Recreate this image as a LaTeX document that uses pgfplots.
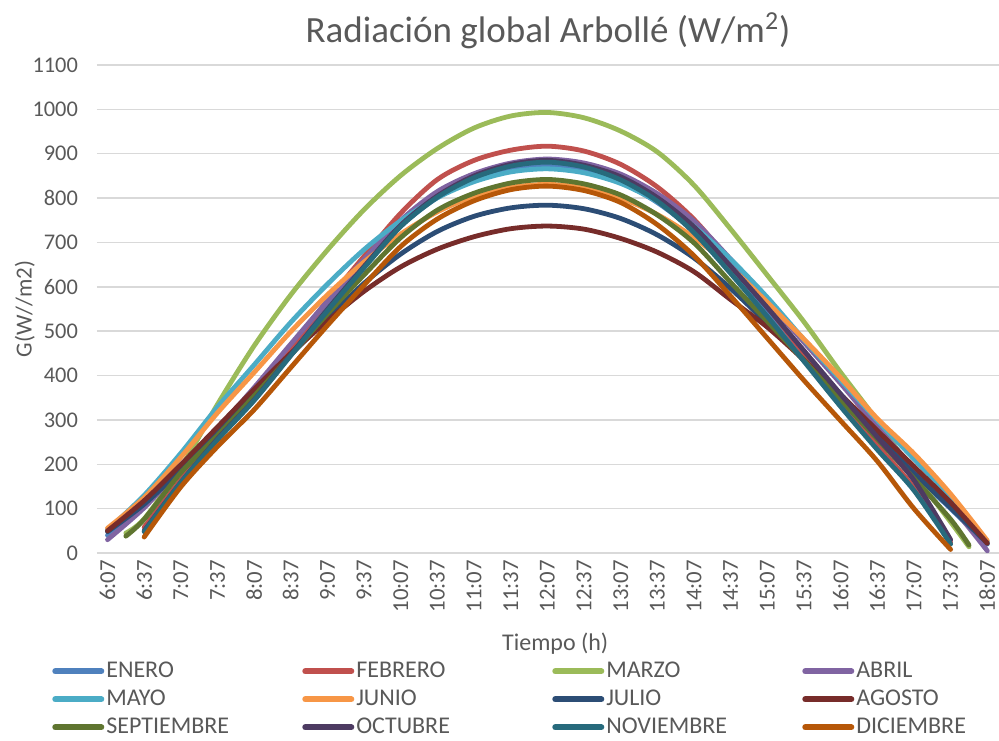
\documentclass[border=0pt]{standalone}
\usepackage{fontspec}
\setmainfont{Carlito}
\usepackage{pgfplots}
\pgfplotsset{compat=1.18}
\definecolor{txt}{HTML}{595959}
\definecolor{grd}{HTML}{D9D9D9}
\definecolor{cEne}{HTML}{4F81BD}
\definecolor{cFeb}{HTML}{C0504D}
\definecolor{cMar}{HTML}{9BBB59}
\definecolor{cAbr}{HTML}{8064A2}
\definecolor{cMay}{HTML}{4BACC6}
\definecolor{cJun}{HTML}{F79646}
\definecolor{cJul}{HTML}{2C4D75}
\definecolor{cAgo}{HTML}{772C2A}
\definecolor{cSep}{HTML}{5F7530}
\definecolor{cOct}{HTML}{4D3B62}
\definecolor{cNov}{HTML}{276A7C}
\definecolor{cDic}{HTML}{B65708}
\newcommand{\lent}[1]{\makebox[97pt][l]{#1}}
\begin{document}
\begin{tikzpicture}
\useasboundingbox (-48.5pt,-93.5pt) rectangle (451pt,276.5pt);
\begin{axis}[
  at={(0pt,0pt)}, anchor=south west, scale only axis,
  width=451pt, height=244pt,
  xmin=-8.6, xmax=729.6, ymin=0, ymax=1100,
  axis line style={draw=none},
  major tick length=0pt,
  ytick={0,100,...,1100},
  ymajorgrids, major grid style={grd, line width=0.75pt},
  xtick={0,30,...,720},
  xticklabels={6:07,6:37,7:07,7:37,8:07,8:37,9:07,9:37,10:07,10:37,11:07,11:37,12:07,12:37,13:07,13:37,14:07,14:37,15:07,15:37,16:07,16:37,17:07,17:37,18:07},
  xticklabel style={rotate=90, anchor=east, font=\fontsize{11.4}{13}\selectfont, text=txt},
  yticklabel style={font=\fontsize{11.2}{13}\selectfont, text=txt, xshift=-6pt},
  /pgf/number format/assume math mode=true,
  /pgf/number format/1000 sep={},
  title={Radiación global Arbollé (W/m\textsuperscript{2})},
  title style={at={(axis description cs:0.5,1.045)}, anchor=center, yshift=0pt, font=\fontsize{18.5}{20}\selectfont, text=txt},
  xlabel={Tiempo (h)},
  xlabel style={at={(axis description cs:0.508,-0.150)}, anchor=north, font=\fontsize{12}{14}\selectfont, text=txt},
  ylabel={G(W//m2)},
  ylabel style={at={(axis description cs:-0.080,0.5)}, anchor=center, font=\fontsize{11.5}{13}\selectfont, text=txt},
  legend columns=4,
  legend cell align=left,
  legend image code/.code={\draw[#1, line width=3pt, line cap=round] (0pt,0pt) -- (23pt,0pt);},
  legend style={at={(axis description cs:-0.050,-0.218)}, anchor=north west, draw=none, fill=none,
    inner sep=0pt, font=\fontsize{12}{14}\selectfont, text=txt, row sep=2.5pt,
    nodes={inner sep=1pt, text height=8pt, text depth=1.5pt}},
  every axis plot/.append style={line width=2.4pt, smooth, line join=round, line cap=round, no marks},
]
\addplot[cEne] coordinates {(0,40)(30,113)(60,188)(90,275)(120,367)(150,463)(180,559)(210,650)(240,738)(270,801)(300,841)(330,864)(360,873)(390,863)(420,836)(450,790)(480,725)(510,633)(540,541)(570,450)(600,358)(630,266)(660,179)(690,100)(720,20)};
\addlegendentry{\lent{ENERO}}
\addplot[cFeb] coordinates {(30,58)(60,165)(90,266)(120,358)(150,463)(180,569)(210,669)(240,766)(270,842)(300,885)(330,908)(360,917)(390,906)(420,876)(450,825)(480,752)(510,656)(540,555)(570,449)(600,344)(630,243)(660,147)(690,24)};
\addlegendentry{\lent{FEBRERO}}
\addplot[cMar] coordinates {(15,45)(30,77)(60,192)(90,335)(120,467)(150,582)(180,683)(210,774)(240,851)(270,912)(300,958)(330,985)(360,993)(390,981)(420,951)(450,904)(480,829)(510,730)(540,626)(570,521)(600,407)(630,298)(660,179)(690,70)(705,14)};
\addlegendentry{\lent{MARZO}}
\addplot[cAbr] coordinates {(0,30)(30,102)(60,191)(90,280)(120,373)(150,471)(180,568)(210,662)(240,750)(270,815)(300,855)(330,879)(360,888)(390,879)(420,854)(450,810)(480,748)(510,662)(540,568)(570,475)(600,382)(630,284)(660,191)(690,107)(720,5)};
\addlegendentry{\lent{ABRIL}}
\addplot[cMay] coordinates {(0,52)(30,130)(60,225)(90,329)(120,424)(150,520)(180,606)(210,684)(240,749)(270,801)(300,837)(330,859)(360,866)(390,857)(420,833)(450,792)(480,736)(510,662)(540,576)(570,481)(600,390)(630,299)(660,212)(690,126)(720,26)};
\addlegendentry{\lent{MAYO}}
\addplot[cJun] coordinates {(0,56)(30,125)(60,216)(90,316)(120,407)(150,499)(180,582)(210,656)(240,719)(270,769)(300,804)(330,824)(360,831)(390,823)(420,800)(450,763)(480,711)(510,644)(540,565)(570,482)(600,395)(630,303)(660,224)(690,133)(720,28)};
\addlegendentry{\lent{JUNIO}}
\addplot[cJul] coordinates {(0,48)(30,110)(60,188)(90,274)(120,361)(150,447)(180,529)(210,608)(240,674)(270,725)(300,759)(330,778)(360,784)(390,776)(420,754)(450,717)(480,665)(510,596)(540,517)(570,435)(600,349)(630,263)(660,180)(690,102)(720,22)};
\addlegendentry{\lent{JULIO}}
\addplot[cAgo] coordinates {(0,50)(30,118)(60,199)(90,284)(120,369)(150,450)(180,523)(210,590)(240,645)(270,685)(300,713)(330,731)(360,737)(390,730)(420,709)(450,678)(480,634)(510,571)(540,509)(570,435)(600,357)(630,276)(660,195)(690,114)(720,22)};
\addlegendentry{\lent{AGOSTO}}
\addplot[cSep] coordinates {(15,38)(30,76)(60,181)(90,265)(120,354)(150,446)(180,539)(210,627)(240,711)(270,773)(300,811)(330,834)(360,842)(390,832)(420,807)(450,762)(480,699)(510,610)(540,522)(570,434)(600,345)(630,257)(660,168)(690,76)(705,18)};
\addlegendentry{\lent{SEPTIEMBRE}}
\addplot[cOct] coordinates {(30,50)(60,159)(90,257)(120,345)(150,447)(180,549)(210,646)(240,739)(270,805)(300,850)(330,876)(360,885)(390,874)(420,848)(450,801)(480,735)(510,646)(540,553)(570,456)(600,358)(630,261)(660,164)(690,30)};
\addlegendentry{\lent{OCTUBRE}}
\addplot[cNov] coordinates {(30,48)(60,159)(90,255)(120,344)(150,445)(180,546)(210,643)(240,736)(270,802)(300,846)(330,872)(360,881)(390,870)(420,841)(450,793)(480,722)(510,630)(540,533)(570,432)(600,330)(630,233)(660,141)(690,20)};
\addlegendentry{\lent{NOVIEMBRE}}
\addplot[cDic] coordinates {(30,36)(60,149)(90,240)(120,323)(150,418)(180,513)(210,604)(240,691)(270,753)(300,794)(330,819)(360,827)(390,817)(420,790)(450,740)(480,670)(510,579)(540,484)(570,389)(600,298)(630,207)(660,100)(690,8)};
\addlegendentry{\lent{DICIEMBRE}}
\end{axis}
\end{tikzpicture}
\end{document}
